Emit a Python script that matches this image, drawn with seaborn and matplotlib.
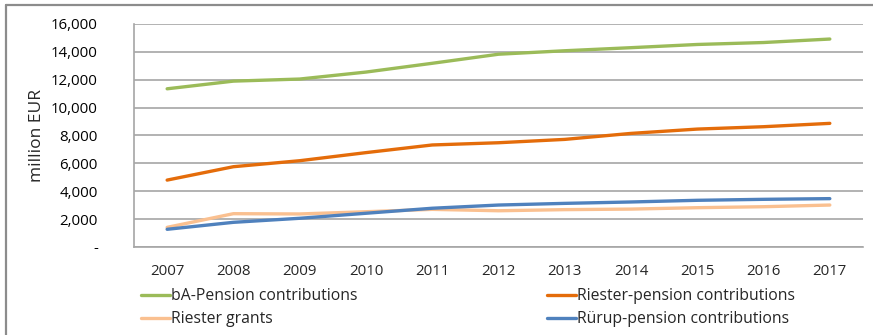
import matplotlib
matplotlib.use("Agg")
import matplotlib.pyplot as plt
from matplotlib.lines import Line2D
from matplotlib.ticker import FuncFormatter, MultipleLocator, FixedLocator
import seaborn as sns
import pandas as pd

# Data (million EUR)
years = [2007, 2008, 2009, 2010, 2011, 2012, 2013, 2014, 2015, 2016, 2017]
ba_pension = [11350, 11900, 12050, 12550, 13180, 13830, 14080, 14300, 14530, 14670, 14920]
riester_pension = [4800, 5760, 6190, 6770, 7320, 7480, 7720, 8150, 8460, 8630, 8870]
riester_grants = [1410, 2390, 2370, 2530, 2700, 2600, 2680, 2720, 2820, 2890, 3010]
ruerup_pension = [1270, 1770, 2060, 2420, 2780, 3010, 3130, 3230, 3350, 3420, 3470]

series_names = ["bA-Pension contributions", "Riester-pension contributions",
                "Riester grants", "Rürup-pension contributions"]
series_values = [ba_pension, riester_pension, riester_grants, ruerup_pension]
colors = ["#9BBB59", "#E46C0A", "#FAC090", "#4F81BD"]

df = pd.concat(
    [pd.DataFrame({"year": years, "value": vals, "series": name})
     for name, vals in zip(series_names, series_values)],
    ignore_index=True,
)

sns.set_style("white")
plt.rcParams["font.family"] = ["Open Sans", "DejaVu Sans"]
plt.rcParams["font.size"] = 10.8

fig = plt.figure(figsize=(8.73, 3.35), dpi=100)
ax = fig.add_axes([0.1535, 0.2627, 0.835, 0.6657])

sns.lineplot(data=df, x="year", y="value", hue="series", hue_order=series_names,
             palette=colors, linewidth=2.4, ax=ax, legend=False, sort=False)

grid_c = "#A6A6A6"
ax.set_xlim(years[0] - 0.5, years[-1] + 0.5)
ax.set_ylim(0, 16000)
ax.yaxis.set_major_locator(MultipleLocator(2000))
ax.yaxis.set_major_formatter(FuncFormatter(lambda v, p: "-" if v == 0 else f"{v:,.0f}"))
ax.xaxis.set_major_locator(FixedLocator(years))
ax.xaxis.set_major_formatter(FuncFormatter(lambda v, p: f"{int(round(v))}"))
ax.xaxis.set_minor_locator(FixedLocator([y - 0.5 for y in years] + [years[-1] + 0.5]))

ax.grid(axis="y", color=grid_c, linewidth=1.2)
ax.set_axisbelow(True)
for s in ["top", "right"]:
    ax.spines[s].set_visible(False)
for s in ["left", "bottom"]:
    ax.spines[s].set_color(grid_c)
    ax.spines[s].set_linewidth(1.2)

ax.tick_params(axis="y", length=0, pad=26, labelsize=10.8, colors="#000000")
ax.tick_params(axis="x", which="major", length=0, pad=12, labelsize=10.8)
ax.tick_params(axis="x", which="minor", length=4, width=1.2, color=grid_c, direction="out")

ax.set_xlabel("")
ax.set_ylabel("million EUR", fontsize=12.5, labelpad=4)

handles = [Line2D([0], [0], color=c, linewidth=2.4) for c in colors]
leg_kw = dict(frameon=False, handlelength=1.8, handletextpad=0.1,
              labelspacing=0.45, fontsize=11.3, borderaxespad=0, borderpad=0)
fig.legend([handles[0], handles[2]], [series_names[0], series_names[2]],
           loc="upper left", bbox_to_anchor=(0.162, 0.14), **leg_kw)
fig.legend([handles[1], handles[3]], [series_names[1], series_names[3]],
           loc="upper left", bbox_to_anchor=(0.627, 0.14), **leg_kw)

# Chart frame (top and left edges)
fig.add_artist(Line2D([6 / 873, 1.0], [1 - 5 / 335, 1 - 5 / 335],
                      transform=fig.transFigure, color="#8C8C8C", linewidth=1.6))
fig.add_artist(Line2D([6 / 873, 6 / 873], [0.0, 1 - 5 / 335],
                      transform=fig.transFigure, color="#8C8C8C", linewidth=1.6))

fig.savefig("out.png", dpi=100)
